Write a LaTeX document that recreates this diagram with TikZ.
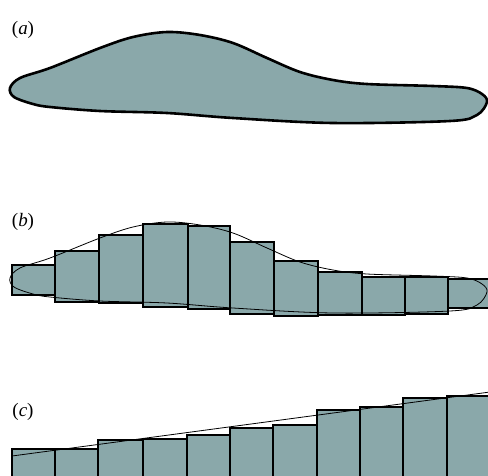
\documentclass[tikz,border=0pt]{standalone}
\usepackage{fontspec}
\setmainfont{Liberation Serif}
\definecolor{slab}{RGB}{138,168,170}
\begin{document}
\begin{tikzpicture}[x=1pt,y=-1pt,
  panel/.style={font=\fontsize{19}{22}\selectfont, inner sep=0pt},
  bar/.style={draw, fill=slab, line width=2.8pt},
  slabA/.style={draw, fill=slab, line width=2.6pt},
  slabB/.style={draw, line width=0.8pt},
  outline/.style={line width=0.8pt}]
\useasboundingbox (0,0) rectangle (488,475);
\clip (0,0) rectangle (488,475);
\fill[white] (0,0) rectangle (488,475);

\node[panel] (labA) at (23,30) {(\textit{a})};
\node[panel] (labB) at (23,222) {(\textit{b})};
\node[panel] (labC) at (23,412) {(\textit{c})};

% (b) bars
\foreach \xa/\xb/\t/\b in {12/55/265/295, 55/99/251/302, 99/143/235/303, 143/188/224/307,
    188/230/226/309, 230/274/242/314, 274/318/261/316, 318/362/272/315,
    362/405/277/315, 405/448/277/314, 448/492/279/308}
  \draw[bar] (\xa,\t) rectangle (\xb,\b);

% (c) bars
\foreach \xa/\xb/\t in {12/55/449, 55/98/449, 98/143/440, 143/187/439, 187/230/435,
    230/273/428, 273/317/425, 317/360/410, 360/403/407, 403/447/398, 447/492/396}
  \draw[bar] (\xa,\t) rectangle (\xb,482);

% slab outline, (a) filled and (b) thin
\foreach \dy/\sty in {0/slabA, 190/slabB}
  \draw[\sty, shift={(0,\dy)}] plot[smooth cycle, tension=0.55] coordinates {
    (10,88) (20,78) (50,68) (100,48) (133,37) (167,32) (200,35) (233,43)
    (267,58) (300,72) (333,80) (367,84) (433,86) (467,88) (482,94) (487,102)
    (477,115) (450,121) (333,123) (233,118) (167,113) (100,111) (50,107)
    (33,104) (14,97)};

\coordinate (cstart) at (12,456);
\coordinate (cend) at (490,392);
\draw[outline] (cstart) -- (cend);
\end{tikzpicture}
\end{document}
